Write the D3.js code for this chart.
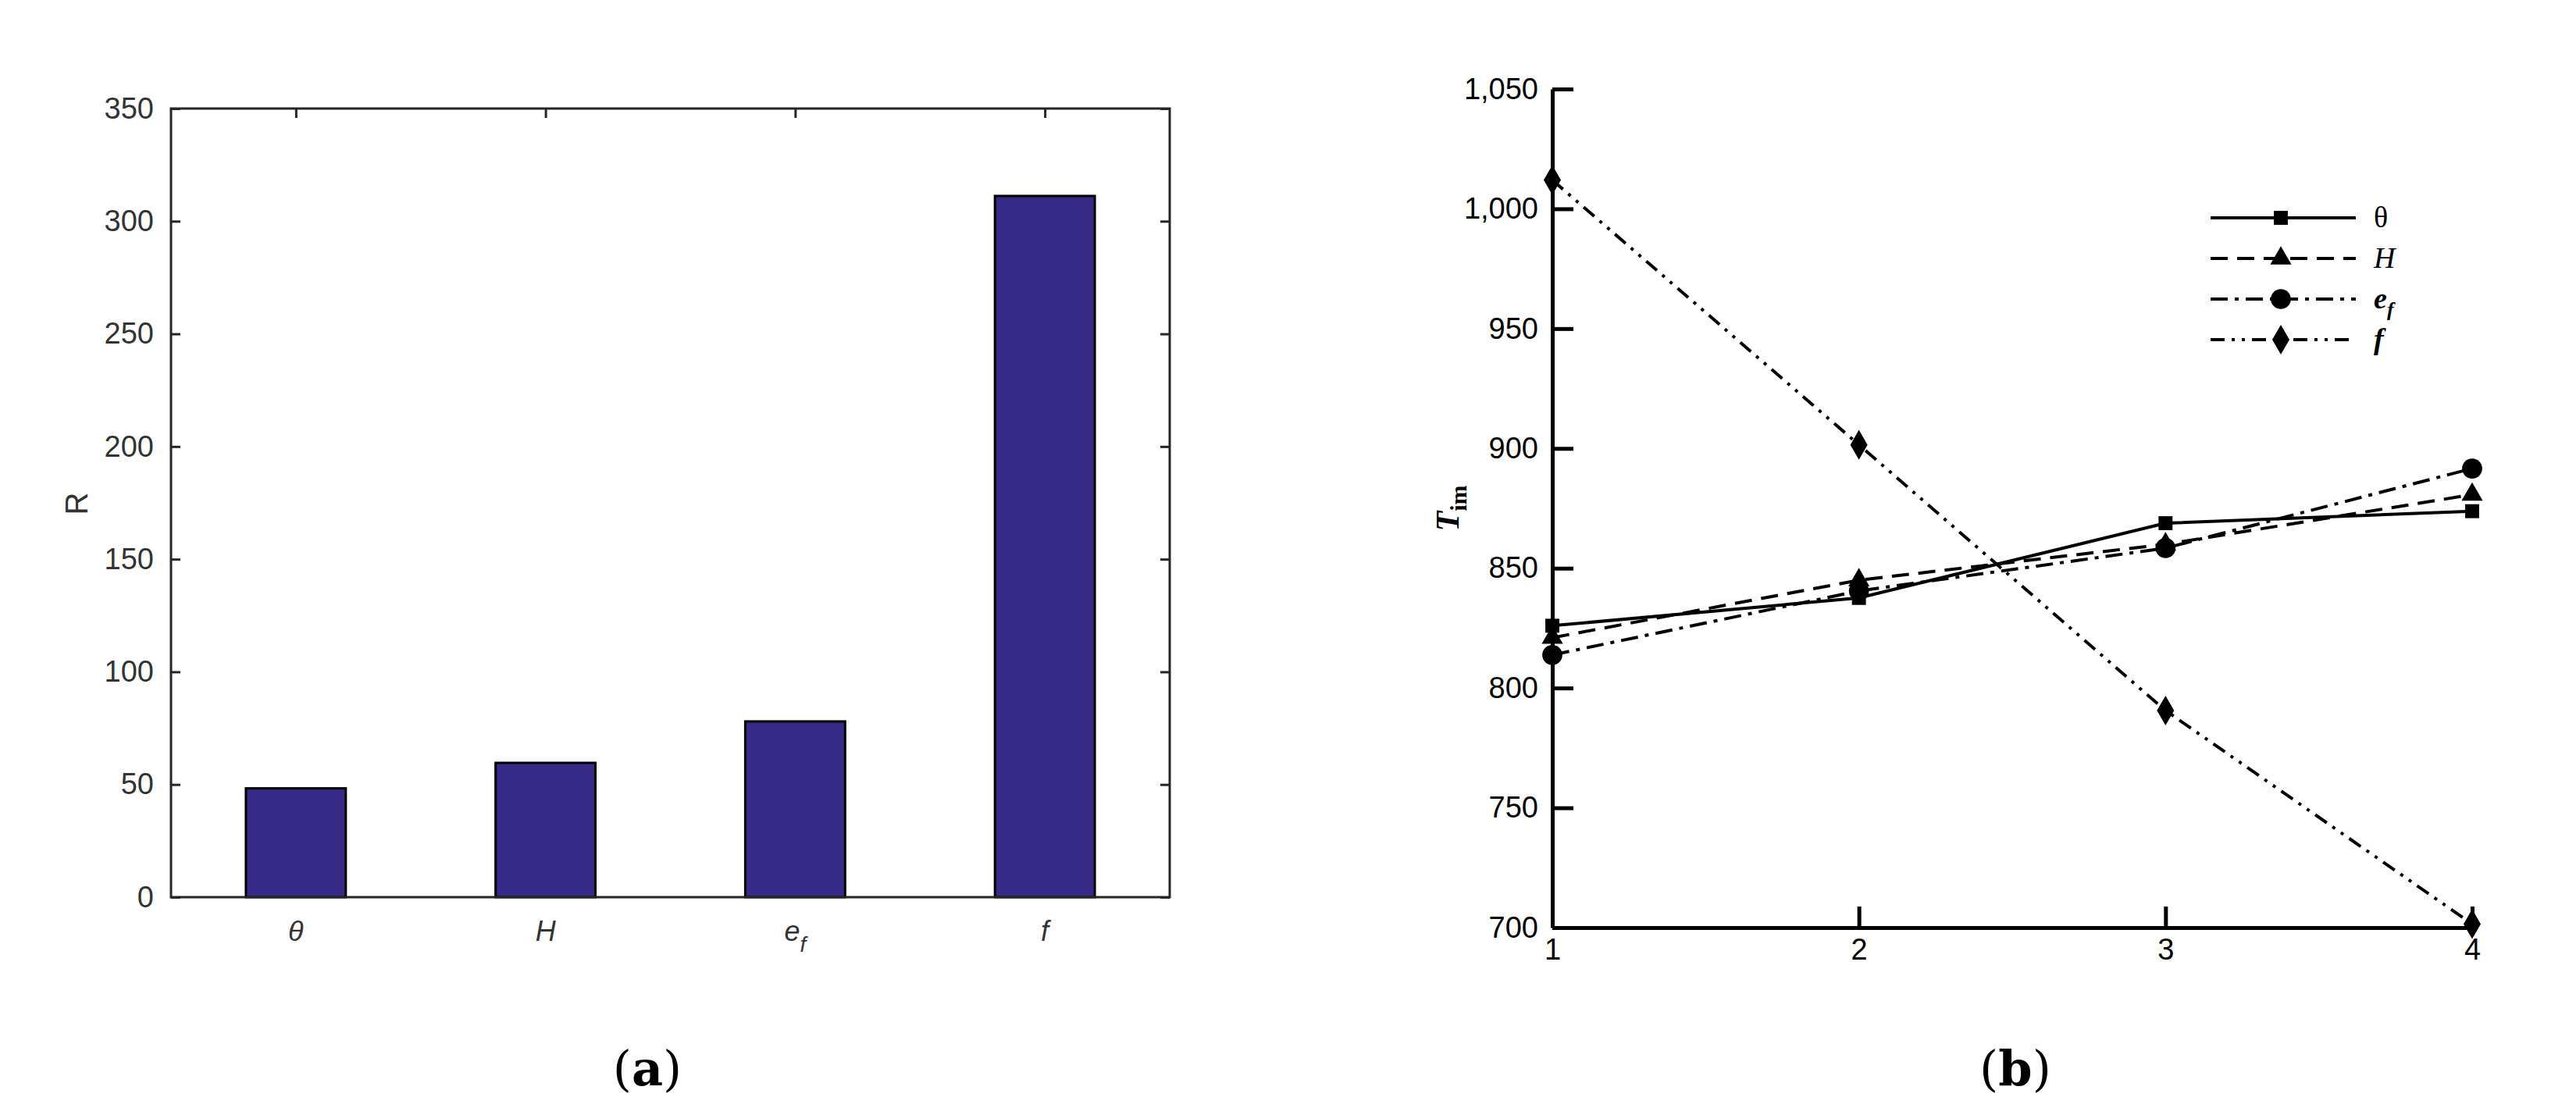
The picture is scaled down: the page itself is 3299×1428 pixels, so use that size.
<!DOCTYPE html>
<html>
<head>
<meta charset="utf-8">
<script src="https://cdn.jsdelivr.net/npm/d3@7"></script>
<style>
  body { margin: 0; background: #fff; }
  svg { display: block; }
</style>
</head>
<body>
<svg width="3299" height="1428"></svg>
<script>
// Panel (a) data
let barCategories = ["θ", "H", "e_f", "f"];
let barValues = [48.3, 59.6, 78, 311.2];
let barTicks = [0, 50, 100, 150, 200, 250, 300, 350];

// Panel (b) data
let levels = [1, 2, 3, 4];
let thetaValues = [826, 837.6, 868.8, 873.8];
let hValues = [821, 845, 860, 880.7];
let efValues = [813.8, 840.5, 858.4, 891.6];
let fValues = [1012, 901.5, 790.6, 701.5];
let lineTicks = [700, 750, 800, 850, 900, 950, 1000, 1050];

let svg = d3.select("svg");

// ---------- Panel (a): bar chart ----------
let a = {left: 219, right: 1498, top: 139, bottom: 1149};

let xa = d3.scaleBand().domain(barCategories)
    .range([a.left, a.right]).paddingInner(0.6).paddingOuter(0.3);
let ya = d3.scaleLinear().domain([0, 350]).range([a.bottom, a.top]);

let ga = svg.append("g");

ga.selectAll("rect.bar")
    .data(barValues)
    .enter().append("rect")
    .attr("class", "bar")
    .attr("x", (d, i) => xa(barCategories[i]))
    .attr("y", d => ya(d))
    .attr("width", xa.bandwidth())
    .attr("height", d => ya(0) - ya(d))
    .attr("fill", "#352a86")
    .attr("stroke", "#000")
    .attr("stroke-width", 3);

// box
ga.append("rect")
    .attr("x", a.left).attr("y", a.top)
    .attr("width", a.right - a.left).attr("height", a.bottom - a.top)
    .attr("fill", "none").attr("stroke", "#262626").attr("stroke-width", 3);

// left and right ticks
let yAxisA = ga.append("g")
    .attr("transform", "translate(" + a.left + ",0)")
    .call(d3.axisLeft(ya).tickValues(barTicks).tickSize(-12).tickPadding(22));
yAxisA.select(".domain").remove();
yAxisA.selectAll("line").attr("stroke", "#262626").attr("stroke-width", 3);
yAxisA.selectAll("text").attr("fill", "#333").style("font-family", "Liberation Sans, Arial")
    .style("font-size", "38px");

let yAxisA2 = ga.append("g")
    .attr("transform", "translate(" + a.right + ",0)")
    .call(d3.axisRight(ya).tickValues(barTicks).tickSize(-12).tickFormat(""));
yAxisA2.select(".domain").remove();
yAxisA2.selectAll("line").attr("stroke", "#262626").attr("stroke-width", 3);

// top ticks
let xAxisTop = ga.append("g")
    .attr("transform", "translate(" + (xa.bandwidth() / 2) + "," + a.top + ")")
    .call(d3.axisTop(d3.scalePoint().domain(barCategories).range([xa(barCategories[0]), xa(barCategories[3])]))
        .tickSize(-12).tickFormat(""));
xAxisTop.select(".domain").remove();
xAxisTop.selectAll("line").attr("stroke", "#262626").attr("stroke-width", 3);

// category labels
let catLabels = ga.selectAll("text.cat")
    .data(barCategories)
    .enter().append("text")
    .attr("class", "cat")
    .attr("x", d => xa(d) + xa.bandwidth() / 2)
    .attr("y", 1205)
    .attr("text-anchor", "middle")
    .attr("fill", "#333")
    .style("font-family", "Liberation Sans, Arial")
    .style("font-style", "italic")
    .style("font-size", "36px");
catLabels.each(function(d) {
  let t = d3.select(this);
  if (d === "e_f") {
    t.append("tspan").text("e");
    t.append("tspan").attr("dy", 14).style("font-size", "28px").text("f");
  } else {
    t.text(d);
  }
});

ga.append("text")
    .attr("transform", "translate(112,645) rotate(-90)")
    .attr("text-anchor", "middle")
    .attr("fill", "#333")
    .style("font-family", "Liberation Sans, Arial")
    .style("font-size", "40px")
    .text("R");

let capA = ga.append("text")
    .attr("x", 829).attr("y", 1390)
    .attr("text-anchor", "middle")
    .style("font-family", "DejaVu Serif, Liberation Serif")
    .style("font-size", "62px");
capA.append("tspan").text("(");
capA.append("tspan").style("font-weight", "bold").text("a");
capA.append("tspan").text(")");

// ---------- Panel (b): line chart ----------
let b = {left: 1988, right: 3166, top: 114, bottom: 1188};

let xb = d3.scaleLinear().domain([1, 4]).range([b.left, b.right]);
let yb = d3.scaleLinear().domain([700, 1050]).range([b.bottom, b.top]);

let gb = svg.append("g");

let yAxisB = gb.append("g")
    .attr("transform", "translate(" + b.left + ",0)")
    .call(d3.axisLeft(yb).tickValues(lineTicks).tickSize(-27).tickSizeOuter(0).tickPadding(18));
yAxisB.select(".domain").attr("stroke", "#000").attr("stroke-width", 5);
yAxisB.selectAll("line").attr("stroke", "#000").attr("stroke-width", 5);
yAxisB.selectAll("text").attr("fill", "#000").style("font-family", "Liberation Sans, Arial")
    .style("font-size", "38px");

let xAxisB = gb.append("g")
    .attr("transform", "translate(0," + b.bottom + ")")
    .call(d3.axisBottom(xb).tickValues(levels).tickSize(-27).tickSizeOuter(0).tickPadding(14)
        .tickFormat(d3.format("d")));
xAxisB.select(".domain").attr("stroke", "#000").attr("stroke-width", 5);
xAxisB.selectAll("line").attr("stroke", "#000").attr("stroke-width", 5);
xAxisB.selectAll("text").attr("fill", "#000").style("font-family", "Liberation Sans, Arial")
    .style("font-size", "38px");

let series = [
  {name: "θ", values: thetaValues, dash: null, symbol: d3.symbolSquare, size: 320, italic: false},
  {name: "H", values: hValues, dash: "22,12", symbol: d3.symbolTriangle, size: 320, italic: true},
  {name: "e_f", values: efValues, dash: "22,9,5,9", symbol: d3.symbolCircle, size: 520, italic: true},
  {name: "f", values: fValues, dash: "18,9,4,9,4,9", symbol: d3.symbolDiamond, size: 420, italic: true}
];

let line = d3.line()
    .x((d, i) => xb(levels[i]))
    .y(d => yb(d));

series.forEach(s => {
  gb.append("path")
      .datum(s.values)
      .attr("fill", "none")
      .attr("stroke", "#000")
      .attr("stroke-width", 4)
      .attr("stroke-dasharray", s.dash)
      .attr("d", line);

  gb.selectAll(null)
      .data(s.values)
      .enter().append("path")
      .attr("transform", (d, i) => "translate(" + xb(levels[i]) + "," + yb(d) + ")")
      .attr("d", d3.symbol().type(s.symbol).size(s.size))
      .attr("fill", "#000");
});

// legend
let legend = gb.append("g");
series.forEach((s, i) => {
  let yy = 279 + i * 52;
  legend.append("line")
      .attr("x1", 2831).attr("x2", 3017)
      .attr("y1", yy).attr("y2", yy)
      .attr("stroke", "#000").attr("stroke-width", 4)
      .attr("stroke-dasharray", s.dash);
  legend.append("path")
      .attr("transform", "translate(2921," + yy + ")")
      .attr("d", d3.symbol().type(s.symbol).size(s.size))
      .attr("fill", "#000");
  let t = legend.append("text")
      .attr("x", 3040).attr("y", yy + 12)
      .style("font-family", "Liberation Serif, Times New Roman")
      .style("font-size", "38px")
      .style("font-style", s.italic ? "italic" : "normal")
      .style("font-weight", s.name === "e_f" || s.name === "f" ? "bold" : "normal");
  if (s.name === "e_f") {
    t.append("tspan").text("e");
    t.append("tspan").attr("dy", 10).style("font-size", "26px").text("f");
  } else {
    t.text(s.name);
  }
});

let yLab = gb.append("text")
    .attr("transform", "translate(1868,651) rotate(-90)")
    .attr("text-anchor", "middle")
    .style("font-family", "Liberation Serif, Times New Roman")
    .style("font-weight", "bold");
yLab.append("tspan").style("font-style", "italic").style("font-size", "42px").text("T");
yLab.append("tspan").attr("dy", 10).style("font-size", "30px").text("im");

let capB = gb.append("text")
    .attr("x", 2581).attr("y", 1390)
    .attr("text-anchor", "middle")
    .style("font-family", "DejaVu Serif, Liberation Serif")
    .style("font-size", "62px");
capB.append("tspan").text("(");
capB.append("tspan").style("font-weight", "bold").text("b");
capB.append("tspan").text(")");
</script>
</body>
</html>
